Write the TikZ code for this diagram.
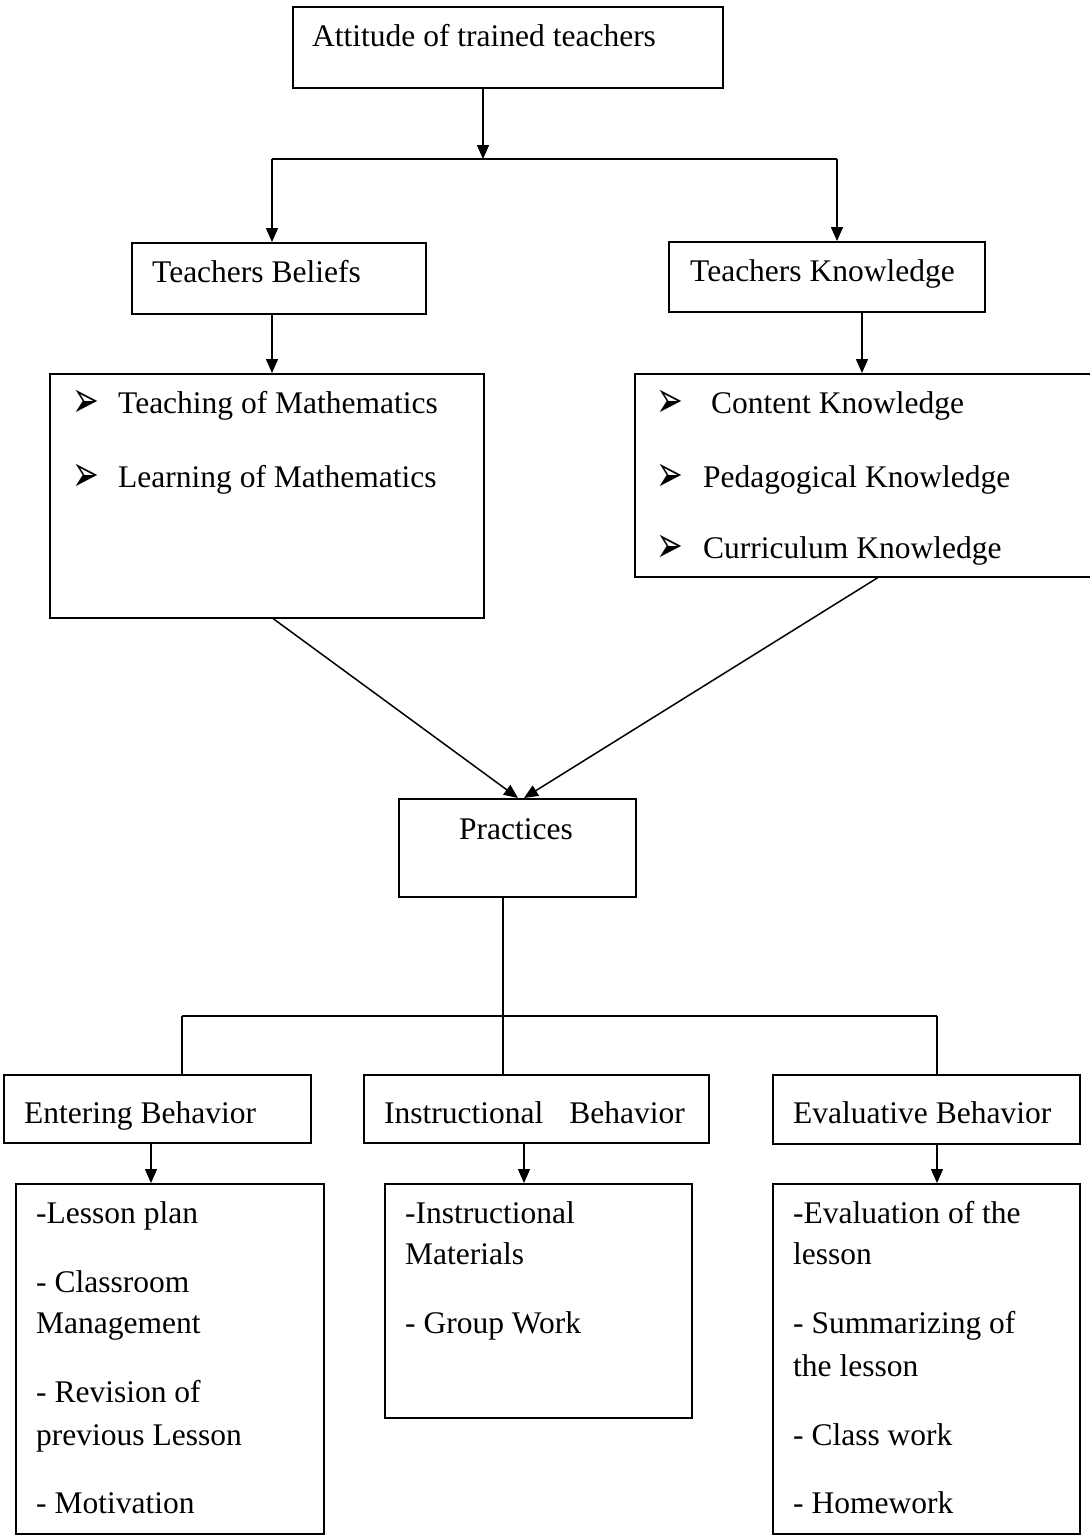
\documentclass[tikz,border=0pt]{standalone}
\usepackage{fontspec}
\setmainfont{Liberation Serif}
\newfontfamily\dingfont{DejaVu Sans}
\usetikzlibrary{arrows.meta,calc}
\newcommand{\pagew}{1090}
\newcommand{\pageh}{1535}
\newcommand{\pointer}{\scalebox{1}[1.6]{\dingfont\fontsize{32}{32}\selectfont ➢}}
\tikzset{
  box/.style={draw, line width=1.5pt, anchor=north west, inner sep=0pt},
  txt/.style={anchor=base west, inner sep=0pt, font=\fontsize{31.5}{42}\selectfont},
  arr/.style={line width=1.5pt, -{Triangle[length=14pt, width=12pt]}},
  lin/.style={line width=1.5pt},
}

\begin{document}
\begin{tikzpicture}[x=1pt, y=-1pt]
  \useasboundingbox (0,0) rectangle (\pagew,\pageh);

  % === TOP LEVEL ===
  \node[box, minimum width=430pt, minimum height=81pt] (attitude) at (292,6) {};
  \node[txt] (attitude-t) at (312,46) {Attitude of trained teachers};

  \node[box, minimum width=294pt, minimum height=71pt] (beliefs) at (131,242) {};
  \node[txt] (beliefs-t) at (152,282) {Teachers Beliefs};
  \node[box, minimum width=316pt, minimum height=70pt] (knowledge) at (668,241) {};
  \node[txt] (knowledge-t) at (690,281) {Teachers Knowledge};

  \coordinate (split) at (483,159);
  \coordinate (splitl) at (272,159);
  \coordinate (splitr) at (837,159);
  \draw[arr] (split |- attitude.south) -- (split);
  \draw[lin] (splitl) -- (splitr);
  \draw[arr] (splitl) -- (splitl |- beliefs.north);
  \draw[arr] (splitr) -- (splitr |- knowledge.north);

  % === LISTS ===
  \node[box, minimum width=434pt, minimum height=244pt] (blist) at (49,373) {};
  \node[box, minimum width=456pt, minimum height=203pt] (klist) at (634,373) {};
  \foreach \y/\t in {413/Teaching of Mathematics, 487/Learning of Mathematics} {
    \node[txt, yshift=-4pt] (bb-\y) at (72,\y) {\pointer};
    \node[txt] (bt-\y) at (118,\y) {\t};
  }
  \foreach \y/\x/\t in {413/711/Content Knowledge, 487/703/Pedagogical Knowledge, 558/703/Curriculum Knowledge} {
    \node[txt, yshift=-4pt] (kb-\y) at (656,\y) {\pointer};
    \node[txt] (kt-\y) at (\x,\y) {\t};
  }
  \coordinate (kdrop) at (862,0);
  \draw[arr] (splitl |- beliefs.south) -- (splitl |- blist.north);
  \draw[arr] (kdrop |- knowledge.south) -- (kdrop |- klist.north);

  % === PRACTICES ===
  \node[box, minimum width=237pt, minimum height=98pt] (practices) at (398,798) {};
  \node[txt] (practices-t) at (459,839) {Practices};
  \draw[arr] ($(blist.south west)+(224,0)$) -- ($(practices.north west)+(120,0)$);
  \draw[arr] ($(klist.south west)+(244,0)$) -- ($(practices.north west)+(126,0)$);

  % === BEHAVIORS ===
  \node[box, minimum width=307pt, minimum height=68pt] (enter) at (3,1074) {};
  \node[txt] (enter-t) at (24,1123) {Entering Behavior};
  \node[box, minimum width=345pt, minimum height=68pt] (instr) at (363,1074) {};
  \node[txt] (instr-t) at (384,1123) {Instructional\hspace{26pt}Behavior};
  \node[box, minimum width=307pt, minimum height=69pt] (evalb) at (772,1074) {};
  \node[txt] (evalb-t) at (793,1123) {Evaluative Behavior};

  \coordinate (join) at (503,1016);
  \coordinate (joinl) at (182,1016);
  \coordinate (joinr) at (937,1016);
  \draw[lin] (join |- practices.south) -- (join);
  \draw[lin] (joinl) -- (joinr);
  \draw[lin] (joinl) -- (joinl |- enter.north);
  \draw[lin] (join) -- (join |- instr.north);
  \draw[lin] (joinr) -- (joinr |- evalb.north);

  % === DETAILS ===
  \node[box, minimum width=308pt, minimum height=350pt] (elist) at (15,1183) {};
  \node[box, minimum width=307pt, minimum height=234pt] (ilist) at (384,1183) {};
  \node[box, minimum width=307pt, minimum height=350pt] (vlist) at (772,1183) {};
  \coordinate (edrop) at (151,0);
  \coordinate (idrop) at (524,0);
  \draw[arr] (edrop |- enter.south) -- (edrop |- elist.north);
  \draw[arr] (idrop |- instr.south) -- (idrop |- ilist.north);
  \draw[arr] (joinr |- evalb.south) -- (joinr |- vlist.north);

  \foreach \y/\t in {1223/-Lesson plan, 1292/- Classroom, 1333/Management,
                     1402/- Revision of, 1445/previous Lesson, 1513/- Motivation}
    \node[txt] (et-\y) at (36,\y) {\t};
  \foreach \y/\t in {1223/-Instructional, 1264/Materials, 1333/- Group Work}
    \node[txt] (it-\y) at (405,\y) {\t};
  \foreach \y/\t in {1223/-Evaluation of the, 1264/lesson, 1333/- Summarizing of,
                     1376/the lesson, 1445/- Class work, 1513/- Homework}
    \node[txt] (vt-\y) at (793,\y) {\t};
\end{tikzpicture}
\end{document}
